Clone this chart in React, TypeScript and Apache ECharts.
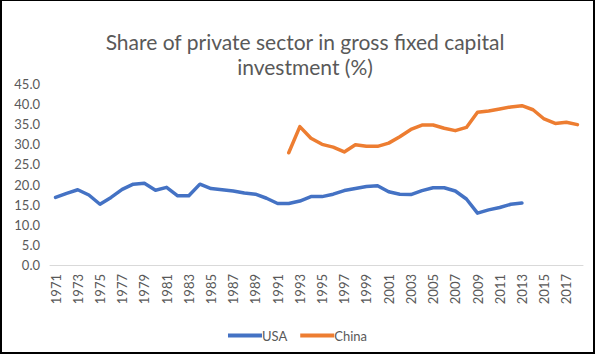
import React, { useEffect, useRef } from "react";
import * as echarts from "echarts";

const titleText = "Share of private sector in gross fixed capital\ninvestment (%)";

const years = [
  "1971", "1972", "1973", "1974", "1975", "1976", "1977", "1978", "1979", "1980",
  "1981", "1982", "1983", "1984", "1985", "1986", "1987", "1988", "1989", "1990",
  "1991", "1992", "1993", "1994", "1995", "1996", "1997", "1998", "1999", "2000",
  "2001", "2002", "2003", "2004", "2005", "2006", "2007", "2008", "2009", "2010",
  "2011", "2012", "2013", "2014", "2015", "2016", "2017", "2018",
];

// 1971–2013, then no data
const usa = [
  16.8, 17.8, 18.7, 17.4, 15.1, 16.8, 18.8, 20.1, 20.3, 18.6,
  19.3, 17.2, 17.2, 20.1, 19.0, 18.7, 18.4, 17.9, 17.6, 16.6,
  15.3, 15.3, 15.9, 17.0, 17.0, 17.6, 18.5, 19.0, 19.5, 19.7,
  18.2, 17.6, 17.5, 18.5, 19.2, 19.2, 18.4, 16.4, 12.9, 13.7,
  14.3, 15.1, 15.4, null, null, null, null, null,
];

// no data before 1992
const china = [
  null, null, null, null, null, null, null, null, null, null,
  null, null, null, null, null, null, null, null, null, null,
  null, 27.9, 34.4, 31.5, 30.0, 29.3, 28.1, 29.9, 29.5, 29.5,
  30.3, 31.9, 33.7, 34.8, 34.8, 34.0, 33.4, 34.2, 38.0, 38.3,
  38.8, 39.3, 39.6, 38.6, 36.3, 35.2, 35.5, 34.9,
];

const seriesNames = ["USA", "China"];
const seriesColors = ["#4472C4", "#ED7D31"];

export default function App() {
  const ref = useRef<HTMLDivElement>(null);
  useEffect(() => {
    if (!ref.current) return;
    const chart = echarts.init(ref.current, undefined, { renderer: "svg" });
    const font = "Lato, 'Open Sans', sans-serif";
    chart.setOption({
      animation: false,
      backgroundColor: "#ffffff",
      title: {
        text: titleText,
        left: 300,
        top: 24,
        textAlign: "center",
        textStyle: {
          fontFamily: font,
          fontSize: 21,
          fontWeight: "normal",
          color: "#595959",
          lineHeight: 25,
          align: "center",
        },
      },
      legend: {
        data: seriesNames,
        left: "center",
        top: 324,
        icon: "rect",
        itemWidth: 34,
        itemHeight: 4,
        itemGap: 13,
        textStyle: { fontFamily: font, fontSize: 13, color: "#595959", padding: [0, 0, 0, -5] },
      },
      grid: { left: 50, right: 12, top: 84, bottom: 89, containLabel: false },
      xAxis: {
        type: "category",
        data: years,
        boundaryGap: true,
        axisLine: { lineStyle: { color: "#d9d9d9", width: 1 } },
        axisTick: { show: false },
        axisLabel: {
          interval: 1,
          rotate: 90,
          margin: 9,
          fontFamily: font,
          fontSize: 13,
          color: "#595959",
        },
      },
      yAxis: {
        type: "value",
        min: 0,
        max: 45,
        interval: 5,
        axisLine: { show: false },
        axisTick: { show: false },
        splitLine: { show: false },
        axisLabel: {
          margin: 10,
          fontFamily: font,
          fontSize: 13,
          color: "#595959",
          formatter: (v: number) => v.toFixed(1),
        },
      },
      series: [
        {
          name: seriesNames[0],
          type: "line",
          data: usa,
          symbol: "none",
          color: seriesColors[0],
          lineStyle: { width: 3.5, color: seriesColors[0], cap: "round", join: "round" },
        },
        {
          name: seriesNames[1],
          type: "line",
          data: china,
          symbol: "none",
          color: seriesColors[1],
          lineStyle: { width: 3.5, color: seriesColors[1], cap: "round", join: "round" },
        },
      ],
    });
    return () => chart.dispose();
  }, []);
  return (
    <div style={{ position: "fixed", left: 0, top: 0, width: 595, height: 354 }}>
      <div ref={ref} style={{ position: "absolute", left: 0, top: 0, width: 595, height: 354 }} />
      <div
        style={{
          position: "absolute",
          left: 0,
          top: 0,
          width: 595,
          height: 354,
          boxSizing: "border-box",
          borderTop: "1px solid #000",
          borderLeft: "2px solid #000",
          borderRight: "2px solid #000",
          borderBottom: "2px solid #000",
          pointerEvents: "none",
        }}
      />
    </div>
  );
}
